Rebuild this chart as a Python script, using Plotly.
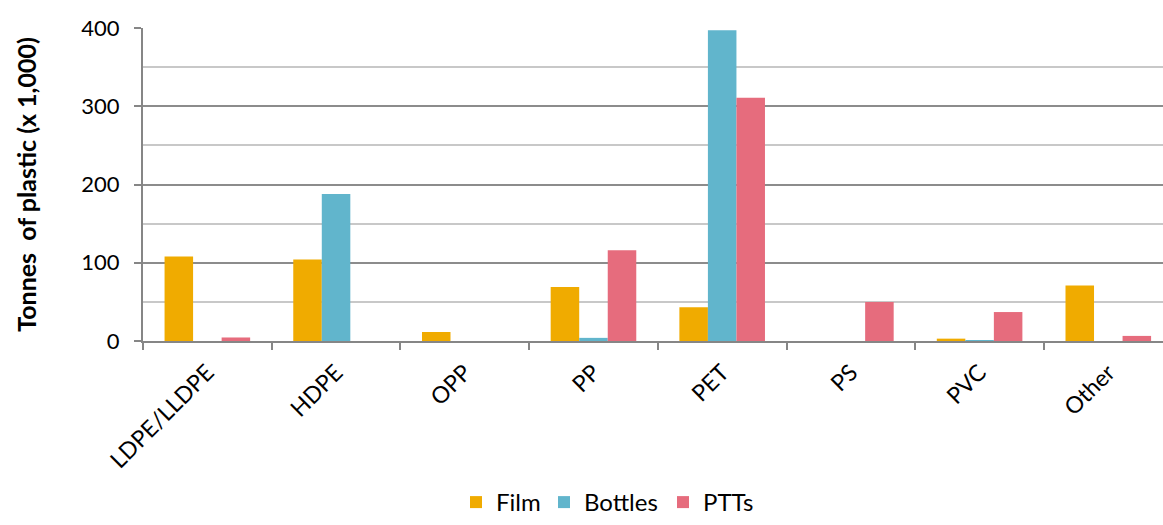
import plotly.graph_objects as go

categories = ["LDPE/LLDPE", "HDPE", "OPP", "PP", "PET", "PS", "PVC", "Other"]
film = [108, 104, 11.5, 69, 43, 0, 3, 71]
bottles = [0, 188, 0, 4, 397, 0, 0.5, 0]
ptts = [4.5, 0, 0, 116, 311, 50, 37, 6.5]

series = [
    ("Film", film, "#F0AB00"),
    ("Bottles", bottles, "#61B5CC"),
    ("PTTs", ptts, "#E66C7D"),
]
# left edge (px) of each legend entry along the bottom row
legend_left_px = [456, 544, 663]

W, H = 1163, 525
font_family = "Lato, Open Sans, sans-serif"

fig = go.Figure()
legend_ids = ["legend", "legend2", "legend3"]
for (name, vals, color), lid in zip(series, legend_ids):
    fig.add_trace(go.Bar(
        name=name, x=categories, y=vals,
        marker=dict(color=color, line=dict(width=0)),
        legend=lid,
    ))

legend_style = dict(
    orientation="h", xref="container", yref="container",
    xanchor="left", y=-0.008, yanchor="bottom",
    font=dict(size=24), itemwidth=30, bgcolor="rgba(0,0,0,0)",
)

fig.update_layout(
    width=W, height=H,
    margin=dict(l=143, r=0, t=28, b=184),
    paper_bgcolor="white", plot_bgcolor="white",
    barmode="group", bargap=0.335, bargroupgap=0,
    font=dict(family=font_family, color="#000000"),
    showlegend=True,
    **{lid: dict(legend_style, x=px / W) for lid, px in zip(legend_ids, legend_left_px)},
)

fig.update_xaxes(
    type="category", range=[-0.5, 7.425],
    showline=True, linecolor="#868686", linewidth=2,
    ticks="outside", tickson="boundaries", ticklen=7, tickcolor="#868686", tickwidth=2,
    tickangle=-45, tickfont=dict(size=23), ticklabelstandoff=7,
    showgrid=False,
)

fig.update_yaxes(
    range=[0, 400], dtick=100, tick0=0,
    showline=True, linecolor="#868686", linewidth=2,
    ticks="outside", ticklen=7, tickcolor="#868686", tickwidth=2,
    tickfont=dict(size=22), ticklabelstandoff=10,
    showgrid=True, gridcolor="#8c8c8c", gridwidth=2,
    minor=dict(dtick=50, showgrid=True, gridcolor="#c8c8c8", gridwidth=2, ticks=""),
    zeroline=False,
    title=dict(text="<b>Tonnes  of plastic (x 1,000)</b>", font=dict(size=25), standoff=38),
)

fig.write_html("out.html")
